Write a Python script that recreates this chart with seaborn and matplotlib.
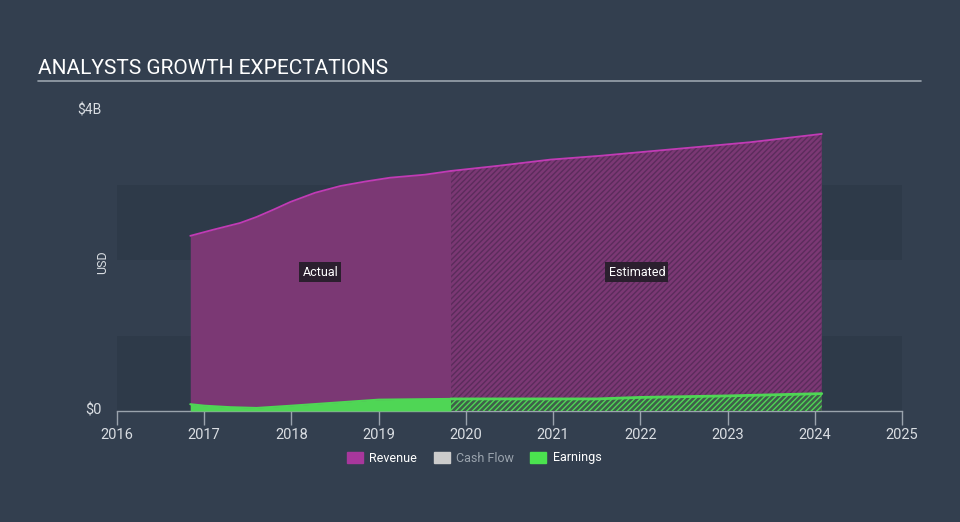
import numpy as np
import pandas as pd
import matplotlib
matplotlib.use("Agg")
import matplotlib.pyplot as plt
import matplotlib.patches as mpatches
import seaborn as sns

# revenue / earnings in $B
rev_years = [2016.84, 2017.1, 2017.41, 2017.6, 2017.8, 2017.99, 2018.27, 2018.56, 2018.85, 2019.13, 2019.53, 2019.83]
rev_vals = [2.32, 2.40, 2.49, 2.57, 2.67, 2.77, 2.89, 2.98, 3.04, 3.09, 3.13, 3.18]
rev_est_years = [2019.83, 2020.39, 2020.97, 2021.54, 2022.11, 2022.69, 2023.26, 2024.08]
rev_est_vals = [3.18, 3.25, 3.33, 3.38, 3.44, 3.50, 3.56, 3.67]

earn_years = [2016.84, 2017.0, 2017.3, 2017.6, 2018.0, 2018.5, 2019.0, 2019.83]
earn_vals = [0.09, 0.07, 0.05, 0.04, 0.07, 0.11, 0.15, 0.16]
earn_est_years = [2019.83, 2020.5, 2021.5, 2022.0, 2023.0, 2024.08]
earn_est_vals = [0.16, 0.16, 0.16, 0.18, 0.20, 0.23]

x_ticks = list(range(2016, 2026))

BG = "#333f4f"
BAND = "#2e3a49"
REV_FILL = "#7b3874"
REV_LINE = "#c13bb5"
EARN = "#4fd655"
TXT = "#d9dde2"

plt.rcParams["hatch.linewidth"] = 1.0
sns.set_style("dark")
plt.rcParams["font.family"] = ["Roboto", "DejaVu Sans"]

fig = plt.figure(figsize=(9.6, 5.22), dpi=100, facecolor=BG)
ax = fig.add_axes([117 / 960, 1 - 411 / 522, (902 - 117) / 960, (411 - 109) / 522])
ax.set_facecolor(BG)

ax.axhspan(0, 1, color=BAND, lw=0, zorder=0)
ax.axhspan(2, 3, color=BAND, lw=0, zorder=0)

rev = pd.DataFrame({"year": rev_years, "value": rev_vals})
rev_est = pd.DataFrame({"year": rev_est_years, "value": rev_est_vals})
earn = pd.DataFrame({"year": earn_years, "value": earn_vals})
earn_est = pd.DataFrame({"year": earn_est_years, "value": earn_est_vals})

# revenue
ax.fill_between(rev["year"], 0, rev["value"], color=REV_FILL, lw=0, zorder=2)
ax.fill_between(rev_est["year"], 0, rev_est["value"], facecolor=REV_FILL,
                edgecolor="#5b2c5c", hatch="//////", lw=0, zorder=2)
sns.lineplot(data=rev, x="year", y="value", color=REV_LINE, lw=1.3, ax=ax, zorder=4)
sns.lineplot(data=rev_est, x="year", y="value", color=REV_LINE, lw=1.3, ax=ax, zorder=4)

# earnings
ax.fill_between(earn["year"], 0, earn["value"], color=EARN, lw=0, zorder=3)
ax.fill_between(earn_est["year"], 0, earn_est["value"], facecolor="#3f5f4a",
                edgecolor=EARN, hatch="//////", lw=0, zorder=3)
sns.lineplot(data=earn, x="year", y="value", color=EARN, lw=1.5, ax=ax, zorder=5)
sns.lineplot(data=earn_est, x="year", y="value", color=EARN, lw=2, ax=ax, zorder=5)

ax.set_xlim(2016, 2025)
ax.set_ylim(0, 4)
ax.set_xticks(x_ticks)
ax.set_xticklabels([str(t) for t in x_ticks], color=TXT, fontsize=10.5)
ax.set_yticks([])
ax.set_xlabel("")
ax.set_ylabel("")
ax.grid(False)
for s in ["top", "right", "left"]:
    ax.spines[s].set_visible(False)
ax.spines["bottom"].set_color("#9aa3ad")
ax.spines["bottom"].set_linewidth(1)
ax.tick_params(axis="x", which="both", bottom=True, length=10, width=1, color="#9aa3ad", pad=2)

# y labels
fig.text(102 / 960, 1 - 110 / 522, "$4B", color=TXT, fontsize=10, ha="right", va="center")
fig.text(102 / 960, 1 - 410 / 522, "$0", color=TXT, fontsize=10.5, ha="right", va="center")
fig.text(103 / 960, 1 - 262 / 522, "USD", color=TXT, fontsize=9, ha="center", va="center", rotation=90)

# region labels
box = dict(boxstyle="square,pad=0.25", fc="#2b1f2e", ec="none")
ax.text(2018.33, 1.84, "Actual", color="white", fontsize=9, ha="center", va="center", bbox=box, zorder=6)
ax.text(2021.96, 1.84, "Estimated", color="white", fontsize=9, ha="center", va="center", bbox=box, zorder=6)

# title
fig.text(38 / 960, 1 - 68 / 522, "ANALYSTS GROWTH EXPECTATIONS", color="white", fontsize=15, ha="left", va="center")
fig.add_artist(plt.Line2D([38 / 960, 921 / 960], [1 - 81 / 522, 1 - 81 / 522], color="#9aa3ad", lw=1.2))

# legend
handles = [mpatches.Patch(color="#a8379c", label="Revenue"),
           mpatches.Patch(color="#cccccc", label="Cash Flow"),
           mpatches.Patch(color="#4be34f", label="Earnings")]
leg = fig.legend(handles=handles, loc="center", bbox_to_anchor=(0.494, 1 - 458 / 522), ncol=3,
                 frameon=False, fontsize=9, handlelength=1.3, handleheight=1.0, columnspacing=1.3,
                 handletextpad=0.5)
for t, c in zip(leg.get_texts(), ["white", "#9aa3ad", "white"]):
    t.set_color(c)

fig.savefig("out.png", dpi=100, facecolor=BG)
